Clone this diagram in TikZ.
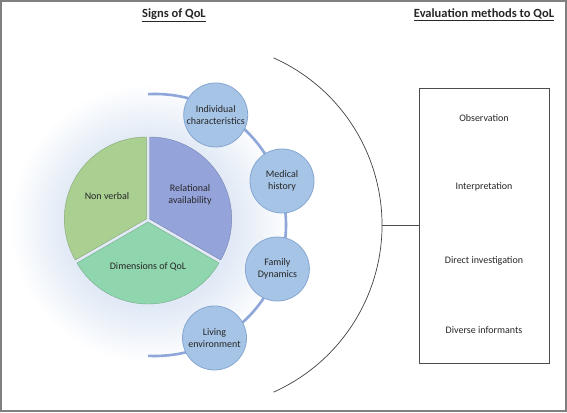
\documentclass[tikz,border=0pt]{standalone}
\usepackage{fontspec}
\setmainfont{Carlito}
\usetikzlibrary{positioning}
\definecolor{ringblue}{HTML}{A6C4E6}
\definecolor{ringedge}{HTML}{86A6D2}
\definecolor{trackblue}{HTML}{8EA6DA}
\definecolor{nvgreen}{HTML}{A9CF91}
\definecolor{relblue}{HTML}{95A3DB}
\definecolor{dimgreen}{HTML}{8FD6AE}
\definecolor{glowblue}{HTML}{E0E9F5}
\begin{document}
\begin{tikzpicture}[x=1pt,y=1pt,
  sign/.style={circle,draw=ringedge,fill=ringblue,line width=0.8pt,minimum size=64pt,inner sep=0pt,align=center,font=\fontsize{10}{11.5}\selectfont},
  method/.style={font=\fontsize{10}{11.5}\selectfont},
  heading/.style={font=\bfseries\fontsize{12.5}{14}\selectfont}]
\tikzstyle{every node}+=[text=black!85]
\useasboundingbox (0,0) rectangle (567,412);
\draw [gray,line width=1.2pt] (1,1) rectangle (566,411);
\node [heading] (signs) at (174,397) {\underline{Signs of QoL}};
\node [heading] (evals) at (484,397) {\underline{Evaluation methods to QoL}};
\foreach \r in {140,138,...,84}
  \fill [glowblue!\fpeval{round(100*(140-\r)/56)}!white] (150,188) circle (\r);
\draw [trackblue,line width=2.6pt] (155,187) ++(93:131) arc (93:-93:131);
\fill [nvgreen,draw=nvgreen!80!black,line width=0.4pt] (146.3,193) -- +(90:82) arc (90:210:82) -- cycle;
\fill [relblue,draw=relblue!80!black,line width=0.4pt] (149.7,193) -- +(90:82) arc (90:-30:82) -- cycle;
\fill [dimgreen,draw=dimgreen!80!black,line width=0.4pt] (148,190) -- +(210:82) arc (210:330:82) -- cycle;
\node [method] (nonverbal) at (107,216) {Non verbal};
\node [method,align=center] (relational) at (190,217) {Relational\\availability};
\node [method] (dimensions) at (148,145) {Dimensions of QoL};
\node [sign] (individual) at (215.7,297) {Individual\\characteristics};
\node [sign] (medical) at (282,231) {Medical\\history};
\node [sign] (family) at (277.4,143) {Family\\Dynamics};
\node [sign] (living) at (214.5,74) {Living\\environment};
\draw [black!75,line width=0.7pt] (199,187) ++(66:183) arc (66:-66:183);
\coordinate (hub) at (382,187);
\node [draw=black!70,line width=0.8pt,minimum width=130pt,minimum height=275pt] (methods) at (484,186.5) {};
\draw [black!70,line width=0.8pt] (hub) -- (methods.west |- hub);
\node [method] (observation) at (484,294) {Observation};
\node [method] (interpretation) at (484,225) {Interpretation};
\node [method] (direct) at (484,151) {Direct investigation};
\node [method] (diverse) at (484,82) {Diverse informants};
\end{tikzpicture}
\end{document}
